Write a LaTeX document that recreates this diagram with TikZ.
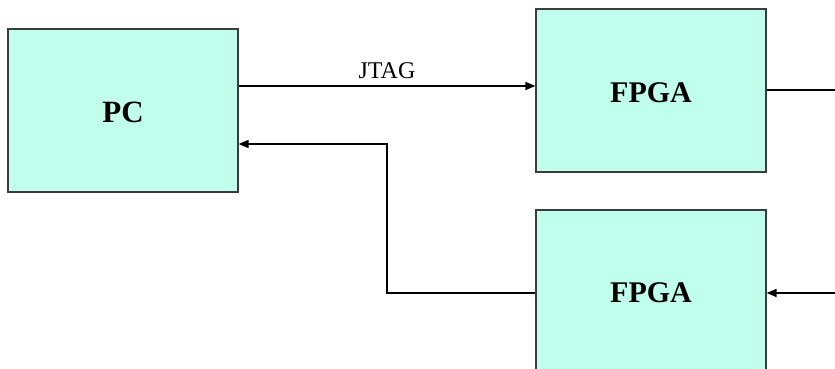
\documentclass[tikz,border=0pt]{standalone}
\usepackage{fontspec}
\setmainfont{Liberation Serif}
\usetikzlibrary{arrows.meta}
\definecolor{boxfill}{RGB}{192,255,236}
\definecolor{boxline}{RGB}{60,60,60}
\begin{document}
\begin{tikzpicture}[x=1pt,y=-1pt,
  blk/.style={draw=boxline,line width=1.2pt,fill=boxfill,minimum width=230pt,minimum height=163pt,inner sep=0pt,font=\fontsize{30}{32}\selectfont\bfseries},
  conn/.style={line width=1.6pt,black},
  tip/.style={-{Triangle[length=10pt,width=8pt]}}]
\useasboundingbox (0,0) rectangle (835,369);
\clip (0,0) rectangle (835,369);
\node[blk] (pc) at (123,110.5) {};
\node[font=\fontsize{31}{32}\selectfont\bfseries] (pct) at (123,112) {PC};
\node[blk] (f1) at (651,90.5) {};
\node[font=\fontsize{30}{32}\selectfont\bfseries] (f1t) at (651,93) {FPGA};
\node[blk] (f2) at (651,291.5) {};
\node[font=\fontsize{30}{32}\selectfont\bfseries] (f2t) at (651,293) {FPGA};
\coordinate (r1) at (835,90);
\coordinate (r2) at (835,293);
\coordinate (k1) at (387,293);
\coordinate (k2) at (387,144);
\draw[conn,tip] (pc.east |- 0,86) -- node[above=3pt,font=\fontsize{24}{26}\selectfont] (jt) {JTAG} (f1.west |- 0,86);
\draw[conn] (f1.east |- r1) -- (r1);
\draw[conn,tip] (r2) -- (f2.east |- r2);
\draw[conn,tip] (f2.west |- k1) -- (k1) -- (k2) -- (pc.east |- k2);
\end{tikzpicture}
\end{document}
